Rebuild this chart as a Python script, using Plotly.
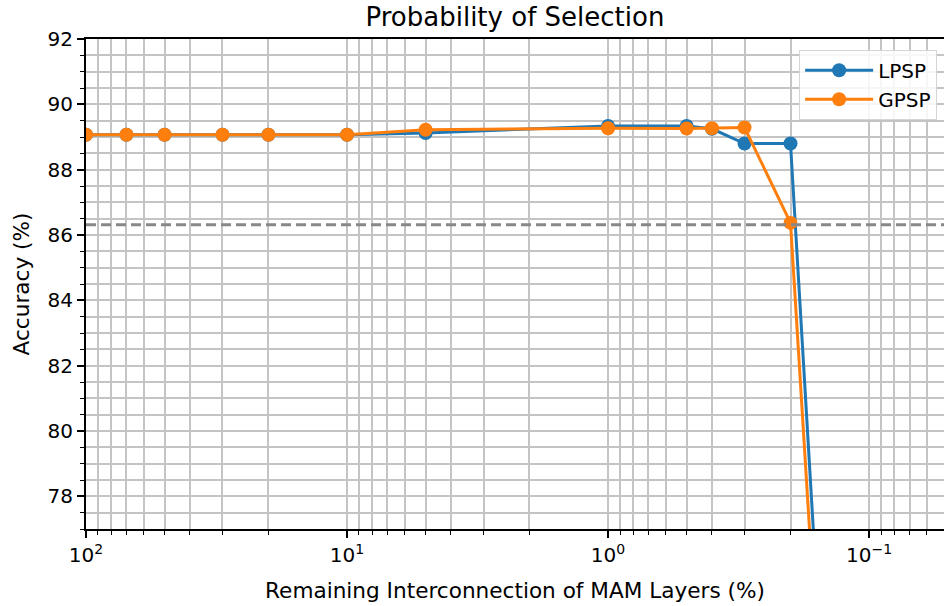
import plotly.graph_objects as go

# Data
remaining_pct = [100, 70, 50, 30, 20, 10, 5, 1, 0.5, 0.4, 0.3, 0.2, 0.1]
lpsp_acc = [89.07, 89.07, 89.07, 89.07, 89.07, 89.07, 89.12, 89.34, 89.34, 89.25, 88.80, 88.80, 48.1]
gpsp_acc = [89.07, 89.07, 89.07, 89.07, 89.07, 89.07, 89.22, 89.27, 89.26, 89.27, 89.29, 86.37, 47.6]
baseline_acc = 86.31

x_major_vals = [100, 10, 1, 0.1]
x_major_text = ["10<sup>2</sup>", "10<sup>1</sup>", "10<sup>0</sup>", "10<sup>\u22121</sup>"]
x_minor_vals = [k * 10 ** e for e in range(-2, 2) for k in range(2, 10)]

FONT = "DejaVu Sans"
BLUE = "#1f77b4"
ORANGE = "#ff7f0e"
GRID = "#c4c4c4"

fig = go.Figure()
fig.add_trace(go.Scatter(
    x=remaining_pct, y=lpsp_acc, name="LPSP", mode="lines+markers",
    line=dict(color=BLUE, width=3), marker=dict(color=BLUE, size=14),
))
fig.add_trace(go.Scatter(
    x=remaining_pct, y=gpsp_acc, name="GPSP", mode="lines+markers",
    line=dict(color=ORANGE, width=3), marker=dict(color=ORANGE, size=14),
))
fig.add_hline(y=baseline_acc, line=dict(color="#888888", width=3, dash="10px,5px"))

fig.update_layout(
    width=944, height=606,
    margin=dict(l=86, r=0, t=39, b=77),
    paper_bgcolor="white", plot_bgcolor="white",
    font=dict(family=FONT, size=20, color="black"),
    title=dict(text="Probability of Selection", x=0.5455, xanchor="center",
               y=0.987, yanchor="top", font=dict(size=26)),
    showlegend=True,
    legend=dict(x=0.992, xanchor="right", y=0.978, yanchor="top",
                bgcolor="rgba(255,255,255,0.85)", bordercolor="#d5d5d5", borderwidth=1,
                font=dict(size=20), itemwidth=68, tracegroupgap=0),
)
fig.update_xaxes(
    type="log", range=[2, -1.287],
    tickmode="array", tickvals=x_major_vals, ticktext=x_major_text,
    ticks="outside", ticklen=7, tickwidth=1.5, tickcolor="black",
    showline=True, linecolor="black", linewidth=2, mirror=True,
    showgrid=True, gridcolor=GRID, gridwidth=1.5,
    minor=dict(tickmode="array", tickvals=x_minor_vals, ticks="outside", ticklen=4,
               tickwidth=1, tickcolor="black", showgrid=True, gridcolor=GRID, gridwidth=1.5),
    title=dict(text="Remaining Interconnection of MAM Layers (%)", standoff=17,
               font=dict(size=21.6)),
    zeroline=False,
)
fig.update_yaxes(
    range=[77, 92], dtick=2, tick0=78,
    ticks="outside", ticklen=7, tickwidth=1.5, tickcolor="black",
    showline=True, linecolor="black", linewidth=2,
    showgrid=True, gridcolor=GRID, gridwidth=1.5,
    minor=dict(dtick=0.5, ticks="outside", ticklen=4, tickwidth=1, tickcolor="black",
               showgrid=True, gridcolor=GRID, gridwidth=1.5),
    title=dict(text="Accuracy (%)", standoff=12, font=dict(size=21.6)),
    zeroline=False,
)

fig.write_html("out.html")
